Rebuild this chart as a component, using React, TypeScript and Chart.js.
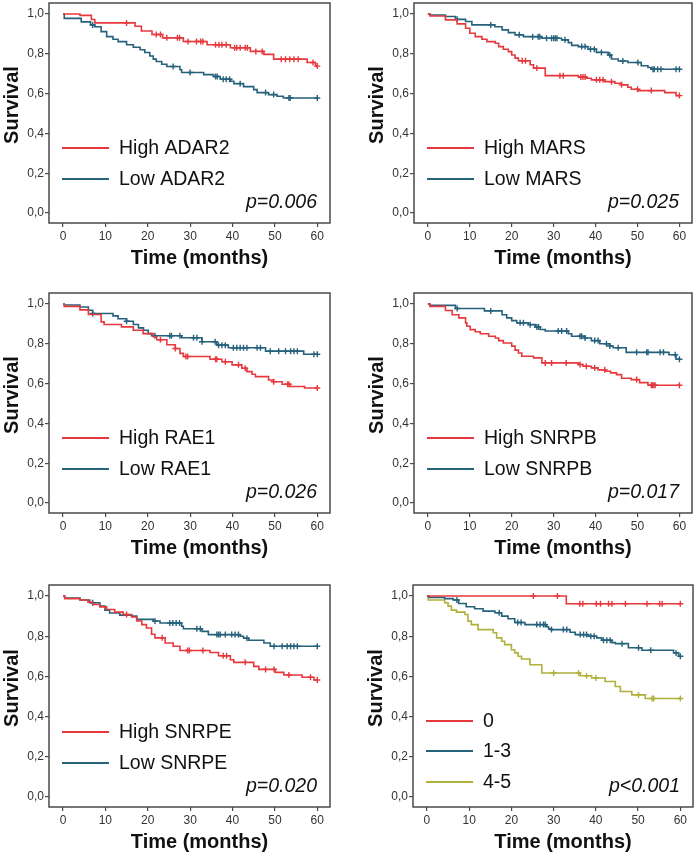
import React, { useEffect, useRef } from "react";
import { Chart, registerables } from "chart.js";

Chart.register(...registerables);

// ---------- shared axis data ----------
const X_TICKS = [0, 10, 20, 30, 40, 50, 60];
const X_TICK_LABELS = ["0", "10", "20", "30", "40", "50", "60"];
const Y_TICKS = [0, 0.2, 0.4, 0.6, 0.8, 1.0];
const Y_TICK_LABELS = ["0,0", "0,2", "0,4", "0,6", "0,8", "1,0"];
const X_TITLE = "Time (months)";
const Y_TITLE = "Survival";
const END_TIME = 60;

// ---------- Panel 1: ADAR2 ----------
const ADAR2_HIGH = [[0, 1], [4, 0.993], [6.7, 0.972], [7.5, 0.955], [17, 0.938], [18.5, 0.914], [21, 0.897], [23.5, 0.88], [28.4, 0.862], [34, 0.845], [39.5, 0.83], [44.2, 0.812], [47.4, 0.797], [49.7, 0.773], [57.6, 0.756], [59.6, 0.738]];
const ADAR2_HIGH_CENS = [15, 22, 23, 24.5, 27, 27.5, 29.5, 31.5, 32.5, 33, 36, 36.8, 37.5, 38.5, 40.5, 41, 41.8, 43, 43.5, 45.5, 47, 51.5, 52.5, 53.5, 54.5, 55.5, 59, 60];
const ADAR2_LOW = [[0, 1], [0.3, 0.978], [4.3, 0.96], [6.5, 0.945], [7.5, 0.936], [9, 0.911], [10.3, 0.886], [11.8, 0.873], [13, 0.861], [15, 0.845], [16.6, 0.833], [18.2, 0.82], [19.3, 0.806], [20.5, 0.789], [21.3, 0.773], [22, 0.761], [23.3, 0.747], [24.5, 0.736], [27.6, 0.72], [28, 0.706], [33.2, 0.695], [35.5, 0.686], [37.1, 0.672], [39.5, 0.662], [40.3, 0.65], [42.6, 0.635], [45, 0.62], [45.8, 0.605], [48.5, 0.595], [50.5, 0.587], [52, 0.578]];
const ADAR2_LOW_CENS = [7, 26, 30, 36, 36.4, 37.8, 38.5, 39.3, 41.8, 47.8, 49.7, 53.3, 53.6, 60];

// ---------- Panel 2: MARS ----------
const MARS_HIGH = [[0, 1], [0.5, 0.99], [4.2, 0.97], [7, 0.95], [9, 0.928], [10, 0.903], [11.3, 0.886], [12.9, 0.873], [14.1, 0.861], [16.1, 0.853], [16.9, 0.836], [18, 0.823], [19.2, 0.811], [20, 0.794], [20.8, 0.778], [21.6, 0.765], [24.4, 0.745], [25.2, 0.728], [28, 0.69], [35.9, 0.683], [37.8, 0.677], [39, 0.669], [42.2, 0.66], [44.6, 0.652], [46.2, 0.644], [47.7, 0.632], [48.5, 0.622], [50.1, 0.615], [56.5, 0.605], [59.2, 0.59]];
const MARS_HIGH_CENS = [22.5, 23.3, 26, 31.5, 32.3, 36.5, 37, 37.5, 40.2, 41, 41.8, 43.8, 46.2, 50, 53.3, 60];
const MARS_LOW = [[0, 1], [0.5, 0.995], [4.2, 0.987], [6.6, 0.973], [9, 0.962], [10.5, 0.945], [16, 0.936], [17.7, 0.92], [19.2, 0.906], [20.8, 0.895], [22.8, 0.886], [27.2, 0.878], [31.9, 0.87], [33.5, 0.856], [34.3, 0.842], [35.9, 0.836], [38.2, 0.823], [40.2, 0.807], [43, 0.794], [43.8, 0.774], [45.4, 0.764], [47.7, 0.756], [50.9, 0.74], [52.5, 0.731], [53.3, 0.722]];
const MARS_LOW_CENS = [7, 15, 21.8, 25, 26.3, 26.7, 28.3, 29.5, 30, 30.4, 30.8, 32.7, 36.7, 37.5, 38.8, 39.7, 41.4, 43.4, 46.5, 50.1, 53.7, 54, 54.8, 55.6, 59.2, 60];

// ---------- Panel 3: RAE1 ----------
const RAE1_HIGH = [[0, 1], [0.3, 0.988], [4, 0.97], [6, 0.947], [9, 0.91], [9.7, 0.897], [13.8, 0.885], [16.6, 0.868], [18.9, 0.851], [21.3, 0.835], [22.1, 0.82], [24.5, 0.795], [26.5, 0.776], [27.6, 0.752], [28.4, 0.736], [34.7, 0.722], [37.5, 0.71], [39.9, 0.694], [42.2, 0.677], [43.4, 0.66], [44.6, 0.647], [45.4, 0.635], [48.5, 0.618], [49.7, 0.609], [51.7, 0.597], [53.5, 0.585], [57, 0.578]];
const RAE1_HIGH_CENS = [23, 26.5, 29, 29.4, 36, 36.3, 38.3, 41.4, 43, 49.7, 53, 53.3, 60];
const RAE1_LOW = [[0, 1], [0.3, 0.995], [4, 0.985], [6, 0.968], [7, 0.952], [11.8, 0.94], [13, 0.926], [15, 0.913], [16.6, 0.897], [17.8, 0.88], [19, 0.868], [20.1, 0.851], [20.9, 0.84], [28, 0.83], [32.8, 0.81], [36.3, 0.793], [39, 0.78], [47.8, 0.763], [56.8, 0.747]];
const RAE1_LOW_CENS = [7, 15, 21.7, 25.2, 25.6, 27.6, 30.8, 31.6, 32.8, 35.9, 36.7, 37.5, 38.3, 40.2, 41, 41.8, 42.6, 43.4, 45.8, 46.6, 48.9, 50.9, 52.5, 53.7, 54.5, 55.3, 59.2, 60];

// ---------- Panel 4: SNRPB ----------
const SNRPB_HIGH = [[0, 1], [0.5, 0.988], [4.2, 0.967], [5.8, 0.946], [7.4, 0.93], [9, 0.905], [9.3, 0.888], [10.1, 0.871], [11.3, 0.86], [12.5, 0.85], [14.5, 0.838], [16.1, 0.829], [16.9, 0.816], [18, 0.804], [20, 0.788], [20.8, 0.768], [21.6, 0.754], [22.4, 0.737], [25.2, 0.729], [27.2, 0.704], [35.9, 0.696], [37, 0.687], [39, 0.679], [40.6, 0.669], [42.4, 0.662], [43.6, 0.654], [45, 0.645], [46.2, 0.627], [48.5, 0.62], [50.5, 0.605], [52.5, 0.592]];
const SNRPB_HIGH_CENS = [28, 29.5, 33, 36.3, 37.8, 39.8, 42.2, 49.8, 53.3, 53.6, 53.9, 54.2, 60];
const SNRPB_LOW = [[0, 1], [0.5, 0.993], [6.6, 0.977], [13.5, 0.965], [17.7, 0.946], [18.8, 0.93], [20, 0.916], [21.2, 0.905], [24, 0.896], [25.6, 0.884], [26.8, 0.872], [28, 0.864], [33.5, 0.85], [34.3, 0.838], [37.5, 0.829], [39, 0.816], [41, 0.8], [43.4, 0.789], [44.2, 0.78], [47.3, 0.757], [57.5, 0.745], [59.2, 0.722]];
const SNRPB_LOW_CENS = [7, 15, 22, 22.8, 24.4, 26, 26.4, 31.1, 31.9, 33.1, 36.3, 36.7, 37.5, 39.8, 40.6, 42.6, 43.4, 45.4, 49.8, 52.2, 52.5, 55.4, 56.2, 59, 60];

// ---------- Panel 5: SNRPE ----------
const SNRPE_HIGH = [[0, 1], [0.4, 0.987], [4, 0.98], [5.9, 0.97], [7, 0.958], [8.7, 0.946], [10.3, 0.933], [12.2, 0.92], [14.2, 0.908], [16.2, 0.896], [17.4, 0.876], [18.6, 0.858], [19.7, 0.841], [20.9, 0.81], [21.7, 0.792], [24.1, 0.766], [26, 0.75], [27.6, 0.729], [34.7, 0.719], [36.7, 0.703], [39.5, 0.683], [40.3, 0.67], [45, 0.65], [46.2, 0.635], [50.1, 0.62], [52.1, 0.607], [56.4, 0.596], [59.2, 0.582]];
const SNRPE_HIGH_CENS = [15, 23.4, 29.4, 29.8, 33, 37.8, 38.6, 43, 47.8, 49.8, 53.3, 58.4, 60];
const SNRPE_LOW = [[0, 1], [0.4, 0.99], [4, 0.98], [6.3, 0.967], [8.7, 0.95], [9.9, 0.93], [11, 0.916], [13.4, 0.905], [16.2, 0.9], [17.4, 0.884], [21.3, 0.876], [22.9, 0.866], [28, 0.85], [28.4, 0.837], [32.8, 0.824], [34.3, 0.808], [41.8, 0.8], [42.6, 0.79], [43.8, 0.78], [47.4, 0.766], [48.9, 0.75]];
const SNRPE_LOW_CENS = [7, 21.7, 25.2, 25.9, 26.7, 27.5, 31.6, 32.4, 36.3, 36.7, 37.1, 38.3, 39.8, 40.6, 41.4, 43.4, 49.8, 51.7, 52.9, 53.7, 54.5, 55.3, 60];

// ---------- Panel 6: score groups ----------
const SCORE_0 = [[0, 1], [33, 0.962]];
const SCORE_0_CENS = [25.2, 30.9, 36.2, 36.9, 40.1, 41.1, 43, 43.8, 47, 52.1, 55.1, 55.7, 60];
const SCORE_13 = [[0, 1], [0.5, 0.993], [4.2, 0.987], [6.2, 0.98], [7.5, 0.963], [9.3, 0.947], [11.3, 0.937], [13.3, 0.925], [16.1, 0.917], [17.7, 0.9], [19.2, 0.887], [20.8, 0.868], [23.2, 0.858], [28.3, 0.847], [28.8, 0.837], [29.5, 0.833], [33.9, 0.82], [35.1, 0.808], [38.2, 0.8], [40.2, 0.792], [41.4, 0.78], [43.8, 0.768], [44.6, 0.763], [47.7, 0.743], [50.9, 0.73], [58.4, 0.717], [59.6, 0.7]];
const SCORE_13_CENS = [7.1, 17.1, 21.5, 22.3, 26, 26.8, 27.6, 28, 29.5, 32.3, 33.1, 36.3, 37.1, 37.8, 38.8, 39.6, 41.8, 42.6, 43.4, 46.2, 50.1, 53, 59, 60];
const SCORE_45 = [[0, 1], [0.3, 0.98], [4.2, 0.967], [5, 0.95], [5.8, 0.93], [7, 0.92], [9, 0.908], [9.7, 0.875], [10.5, 0.858], [12.1, 0.833], [15.7, 0.817], [16.5, 0.792], [17.7, 0.775], [18.4, 0.758], [20, 0.733], [20.8, 0.717], [21.6, 0.7], [22.4, 0.687], [24.4, 0.658], [27.2, 0.617], [36.3, 0.603], [39, 0.592], [42.2, 0.575], [44.6, 0.55], [45.8, 0.525], [48.5, 0.508], [51.7, 0.49]];
const SCORE_45_CENS = [30, 35.9, 37.8, 40, 50.1, 53.3, 53.7, 60];

// ---------- styling ----------
const RED = "#e6383d";
const BLUE = "#26617c";
const OLIVE = "#b0b03a";
const FRAME = "#4a4a4a";
const FONT = "'Liberation Sans', Arial, Helvetica, sans-serif";
const X_MIN = -3.3;
const X_MAX = 63;
const Y_MIN = -0.05;
const Y_MAX = 1.055;

type Group = { label: string; color: string; steps: number[][]; cens: number[] };
type PanelDef = { box: number[]; p: string; groups: Group[] };

const PANELS: PanelDef[] = [
  { box: [49, 3, 330, 223], p: "p=0.006", groups: [
    { label: "High ADAR2", color: RED, steps: ADAR2_HIGH, cens: ADAR2_HIGH_CENS },
    { label: "Low ADAR2", color: BLUE, steps: ADAR2_LOW, cens: ADAR2_LOW_CENS }] },
  { box: [414, 3, 692, 223], p: "p=0.025", groups: [
    { label: "High MARS", color: RED, steps: MARS_HIGH, cens: MARS_HIGH_CENS },
    { label: "Low MARS", color: BLUE, steps: MARS_LOW, cens: MARS_LOW_CENS }] },
  { box: [49, 293, 330, 513], p: "p=0.026", groups: [
    { label: "High RAE1", color: RED, steps: RAE1_HIGH, cens: RAE1_HIGH_CENS },
    { label: "Low RAE1", color: BLUE, steps: RAE1_LOW, cens: RAE1_LOW_CENS }] },
  { box: [414, 293, 692, 513], p: "p=0.017", groups: [
    { label: "High SNRPB", color: RED, steps: SNRPB_HIGH, cens: SNRPB_HIGH_CENS },
    { label: "Low SNRPB", color: BLUE, steps: SNRPB_LOW, cens: SNRPB_LOW_CENS }] },
  { box: [49, 585, 330, 807], p: "p=0.020", groups: [
    { label: "High SNRPE", color: RED, steps: SNRPE_HIGH, cens: SNRPE_HIGH_CENS },
    { label: "Low SNRPE", color: BLUE, steps: SNRPE_LOW, cens: SNRPE_LOW_CENS }] },
  { box: [413, 585, 693, 807], p: "p<0.001", groups: [
    { label: "0", color: RED, steps: SCORE_0, cens: SCORE_0_CENS },
    { label: "1-3", color: BLUE, steps: SCORE_13, cens: SCORE_13_CENS },
    { label: "4-5", color: OLIVE, steps: SCORE_45, cens: SCORE_45_CENS }] },
];

function stepAt(steps: number[][], t: number): number {
  let v = steps[0][1];
  for (const [x, y] of steps) { if (x <= t) v = y; }
  return v;
}

const Y_AXIS_W = 49;
const PAD_TOP = 3;
const PAD_RIGHT = 10;
const CANVAS_H = 278;

function Panel({ def }: { def: PanelDef }) {
  const ref = useRef<HTMLCanvasElement | null>(null);
  const [bl, bt, br, bb] = def.box;
  const left = bl - Y_AXIS_W;
  const top = bt - PAD_TOP;
  const width = br + PAD_RIGHT - left;
  const xAxisH = CANVAS_H - (bb - top);

  useEffect(() => {
    const canvas = ref.current;
    if (!canvas) return;
    const datasets: any[] = [];
    def.groups.forEach((g) => {
      const last = g.steps[g.steps.length - 1][1];
      const pts = [...g.steps, [END_TIME, last]].map(([x, y]) => ({ x, y }));
      datasets.push({
        type: "line", data: pts, stepped: true, borderColor: g.color, borderWidth: 1.6,
        pointRadius: 0, pointHoverRadius: 0, fill: false, tension: 0,
      });
      datasets.push({
        type: "line", data: g.cens.map((t) => ({ x: t, y: stepAt(g.steps, t) })), showLine: false,
        pointStyle: "cross", pointRadius: 3, pointHoverRadius: 3, borderColor: g.color,
        backgroundColor: g.color, pointBorderWidth: 1.4, borderWidth: 1.4,
      });
    });

    const framePlugin = {
      id: "frameText",
      afterDraw(chart: any) {
        const { ctx, chartArea: a } = chart;
        ctx.save();
        ctx.strokeStyle = FRAME;
        ctx.lineWidth = 1.5;
        ctx.strokeRect(a.left, a.top, a.right - a.left, a.bottom - a.top);
        const offs = def.groups.length === 3 ? [86, 56, 25] : [75, 44];
        def.groups.forEach((g, i) => {
          const y = a.bottom - offs[i];
          ctx.strokeStyle = g.color;
          ctx.lineWidth = 1.8;
          ctx.beginPath();
          ctx.moveTo(a.left + 13, y);
          ctx.lineTo(a.left + 60, y);
          ctx.stroke();
          ctx.fillStyle = "#111";
          ctx.font = `19.5px ${FONT}`;
          ctx.textAlign = "left";
          ctx.textBaseline = "middle";
          ctx.fillText(g.label, a.left + 70, y + 1);
        });
        ctx.fillStyle = "#111";
        ctx.font = `italic 19.5px ${FONT}`;
        ctx.textAlign = "right";
        ctx.textBaseline = "middle";
        ctx.fillText(def.p, a.right - 13, a.bottom - 20);
        ctx.font = `bold 20px ${FONT}`;
        ctx.textAlign = "center";
        ctx.fillText(X_TITLE, (a.left + a.right) / 2 + 10, a.bottom + 35);
        ctx.translate(a.left - 37, (a.top + a.bottom) / 2 - 8);
        ctx.rotate(-Math.PI / 2);
        ctx.fillText(Y_TITLE, 0, 0);
        ctx.restore();
      },
    };

    const fitX = (s: any) => { s.height = xAxisH; s.paddingLeft = 0; s.paddingRight = 0; s.paddingTop = 0; s.paddingBottom = 0; };
    const fitY = (s: any) => { s.width = Y_AXIS_W; s.paddingLeft = 0; s.paddingRight = 0; s.paddingTop = 0; s.paddingBottom = 0; };

    const chart = new Chart(canvas, {
      type: "line",
      data: { datasets },
      options: {
        animation: false,
        responsive: false,
        devicePixelRatio: 1,
        events: [],
        layout: { padding: { top: PAD_TOP, right: PAD_RIGHT, left: 0, bottom: 0 }, autoPadding: false },
        plugins: { legend: { display: false }, tooltip: { enabled: false }, title: { display: false } },
        scales: {
          x: {
            type: "linear", min: X_MIN, max: X_MAX,
            afterBuildTicks: (s: any) => { s.ticks = X_TICKS.map((v) => ({ value: v })); },
            afterFit: fitX,
            border: { display: false },
            grid: { display: true, drawOnChartArea: false, drawTicks: true, tickLength: 4, color: FRAME, lineWidth: 1.2 },
            ticks: {
              autoSkip: false, maxRotation: 0, padding: 2, color: "#333",
              font: { family: FONT, size: 12 },
              callback: (_v: any, i: number) => X_TICK_LABELS[i],
            },
          },
          y: {
            type: "linear", min: Y_MIN, max: Y_MAX,
            afterBuildTicks: (s: any) => { s.ticks = Y_TICKS.map((v) => ({ value: v })); },
            afterFit: fitY,
            border: { display: false },
            grid: { display: true, drawOnChartArea: false, drawTicks: true, tickLength: 4, color: FRAME, lineWidth: 1.2 },
            ticks: {
              autoSkip: false, padding: 1, color: "#333",
              font: { family: FONT, size: 12 },
              callback: (_v: any, i: number) => Y_TICK_LABELS[i],
            },
          },
        },
      } as any,
      plugins: [framePlugin],
    });
    return () => chart.destroy();
  }, [def]);

  return (
    <canvas
      ref={ref}
      width={width}
      height={CANVAS_H}
      style={{ position: "absolute", left, top, width, height: CANVAS_H }}
    />
  );
}

export default function App() {
  return (
    <div style={{ position: "absolute", left: 0, top: 0, width: 697, height: 860, overflow: "hidden", background: "#fff" }}>
      {PANELS.map((d, i) => (
        <Panel key={i} def={d} />
      ))}
    </div>
  );
}
